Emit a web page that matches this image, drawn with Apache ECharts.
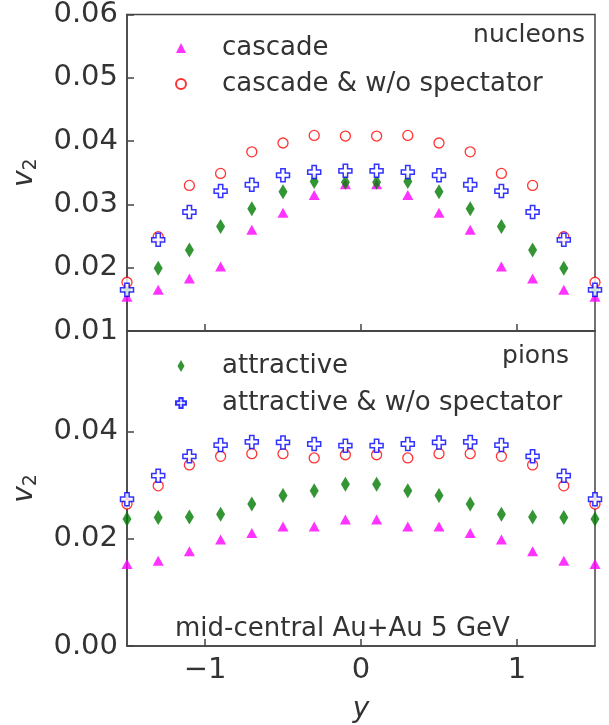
<!DOCTYPE html>
<html>
<head>
<meta charset="utf-8">
<script src="https://cdn.jsdelivr.net/npm/echarts@6/dist/echarts.min.js"></script>
<style>
html,body{margin:0;padding:0;background:#fff;}
#chart{width:609px;height:725px;}
</style>
</head>
<body>
<div id="chart"></div>
<script>
// rapidity values
const rapidity = [-1.5,-1.3,-1.1,-0.9,-0.7,-0.5,-0.3,-0.1,0.1,0.3,0.5,0.7,0.9,1.1,1.3,1.5];
const xTicks = [-1, 0, 1];
const yTicksTop = [0.01,0.02,0.03,0.04,0.05,0.06];
const yTicksBottom = [0.00,0.02,0.04];

// nucleons (top panel)
const nucCascade       = [0.0154,0.0165,0.0183,0.0202,0.0260,0.0287,0.0315,0.0332,0.0332,0.0315,0.0287,0.0260,0.0202,0.0183,0.0165,0.0154];
const nucCascadeNoSpec = [0.0177,0.0249,0.0330,0.0349,0.0383,0.0397,0.0409,0.0408,0.0408,0.0409,0.0397,0.0383,0.0349,0.0330,0.0249,0.0177];
const nucAttr          = [0.0165,0.0199,0.0228,0.0265,0.0293,0.0320,0.0336,0.0335,0.0335,0.0336,0.0320,0.0293,0.0265,0.0228,0.0199,0.0165];
const nucAttrNoSpec    = [0.0165,0.0244,0.0288,0.0321,0.0331,0.0346,0.0351,0.0353,0.0353,0.0351,0.0346,0.0331,0.0321,0.0288,0.0244,0.0165];

// pions (bottom panel)
const pionCascade       = [0.0153,0.0159,0.0177,0.0199,0.0211,0.0223,0.0223,0.0236,0.0236,0.0223,0.0223,0.0211,0.0199,0.0177,0.0159,0.0153];
const pionCascadeNoSpec = [0.0265,0.0299,0.0338,0.0354,0.0359,0.0359,0.0351,0.0357,0.0357,0.0351,0.0359,0.0359,0.0354,0.0338,0.0299,0.0265];
const pionAttr          = [0.0237,0.0240,0.0241,0.0246,0.0265,0.0281,0.0290,0.0302,0.0302,0.0290,0.0281,0.0265,0.0246,0.0241,0.0240,0.0237];
const pionAttrNoSpec    = [0.0274,0.0318,0.0354,0.0375,0.0381,0.0380,0.0377,0.0374,0.0374,0.0377,0.0380,0.0381,0.0375,0.0354,0.0318,0.0274];

const FONT = 'DejaVu Sans';
const TXT = '#333333';
const AX = '#444444';
const crossPath = 'path://M-1,-3 L1,-3 L1,-1 L3,-1 L3,1 L1,1 L1,3 L-1,3 L-1,1 L-3,1 L-3,-1 L-1,-1 Z';
const diamondPath = 'path://M0,-6 L3.5,0 L0,6 L-3.5,0 Z';

const markerStyles = {
  'cascade': {symbol:'triangle', symbolSize:[11,10], itemStyle:{color:'#ff00ff'}},
  'cascade & w/o spectator': {symbol:'circle', symbolSize:10, itemStyle:{color:'#ffffff', borderColor:'#ff0000', borderWidth:1.3}},
  'attractive': {symbol:'diamond', symbolSize:[9,15], itemStyle:{color:'#007a00'}},
  'attractive & w/o spectator': {symbol:crossPath, symbolSize:13, itemStyle:{color:'#ffffff', borderColor:'#0000ff', borderWidth:1.5}}
};

function pairs(ys){ return rapidity.map((x,i)=>[x, ys[i]]); }

function mkSeries(name, ys, idx){
  const m = markerStyles[name];
  return Object.assign({
    type:'scatter', name:name, xAxisIndex:idx, yAxisIndex:idx,
    data:pairs(ys), clip:false, z: 3
  }, m);
}

const series = [
  mkSeries('cascade', nucCascade, 0),
  mkSeries('attractive', nucAttr, 0),
  mkSeries('cascade & w/o spectator', nucCascadeNoSpec, 0),
  mkSeries('attractive & w/o spectator', nucAttrNoSpec, 0),
  mkSeries('cascade', pionCascade, 1),
  mkSeries('attractive', pionAttr, 1),
  mkSeries('cascade & w/o spectator', pionCascadeNoSpec, 1),
  mkSeries('attractive & w/o spectator', pionAttrNoSpec, 1)
];

function xAxis(idx, showLabels){
  return {
    type:'value', gridIndex:idx, min:-1.5, max:1.5,
    name: showLabels ? 'y' : '',
    nameLocation:'middle', nameGap:50,
    nameTextStyle:{fontFamily:FONT, fontSize:28, fontStyle:'italic', color:TXT},
    axisLine:{show:true, onZero:false, lineStyle:{color:AX, width:1.5}},
    axisTick:{show:true, inside:true, length:7, customValues:xTicks, lineStyle:{color:AX, width:1.5}},
    axisLabel:{show:showLabels, customValues:xTicks, margin:10,
      fontFamily:FONT, fontSize:29, color:TXT,
      formatter:v=> (v<0 ? '\u2212'+Math.abs(v) : String(v))},
    splitLine:{show:false}
  };
}
function yAxis(idx, min, max, ticks){
  return {
    type:'value', gridIndex:idx, min:min, max:max,
    name:'{v|v}{s|2}', nameLocation:'middle', nameGap:86, nameRotate:90,
    nameTextStyle:{fontFamily:FONT, color:TXT, rich:{
      v:{fontFamily:FONT, fontSize:28, fontStyle:'italic', color:TXT, lineHeight:30, verticalAlign:'top'},
      s:{fontFamily:FONT, fontSize:19, color:TXT, lineHeight:30, verticalAlign:'bottom', padding:[14,0,0,0]}
    }},
    axisLine:{show:true, onZero:false, lineStyle:{color:AX, width:1.5}},
    axisTick:{show:true, inside:true, length:7, customValues:ticks, lineStyle:{color:AX, width:1.5}},
    axisLabel:{show:true, customValues:ticks, margin:9, fontFamily:FONT, fontSize:29, color:TXT,
      formatter:v=>v.toFixed(2)},
    splitLine:{show:false}
  };
}

const option = {
  backgroundColor:'#ffffff',
  animation:false,
  grid:[
    {left:126, width:469, top:13, height:318, show:true, borderColor:AX, borderWidth:1.5, backgroundColor:'transparent'},
    {left:126, width:469, top:331, height:319, show:true, borderColor:AX, borderWidth:1.5, backgroundColor:'transparent'}
  ],
  xAxis:[xAxis(0,false), xAxis(1,true)],
  yAxis:[yAxis(0,0.01,0.06,yTicksTop), yAxis(1,0,0.0588,yTicksBottom)],
  legend:[
    {data:[{name:'cascade', icon:'triangle'},{name:'cascade & w/o spectator', icon:'circle'}],
     orient:'vertical', left:170, top:28, itemWidth:10, itemHeight:10, itemGap:6, selectedMode:false,
     textStyle:{fontFamily:FONT, fontSize:26, lineHeight:30, color:TXT, padding:[0,0,0,31]}},
    {data:[{name:'attractive', icon:diamondPath},{name:'attractive & w/o spectator', icon:crossPath}],
     orient:'vertical', left:170, top:346, itemWidth:10, itemHeight:12, itemGap:7, selectedMode:false,
     textStyle:{fontFamily:FONT, fontSize:26, lineHeight:30, color:TXT, padding:[0,0,0,31]}}
  ],
  graphic:[
    {type:'text', right:24, top:23, style:{text:'nucleons', fontFamily:FONT, fontSize:25, fill:TXT}},
    {type:'text', right:40, top:344, style:{text:'pions', fontFamily:FONT, fontSize:25, fill:TXT}},
    {type:'text', left:175, top:616, style:{text:'mid-central Au+Au 5 GeV', fontFamily:FONT, fontSize:26, fill:TXT}}
  ],
  series:series
};

const chart = echarts.init(document.getElementById('chart'), null, {renderer:'canvas'});
chart.setOption(option);
</script>
</body>
</html>
